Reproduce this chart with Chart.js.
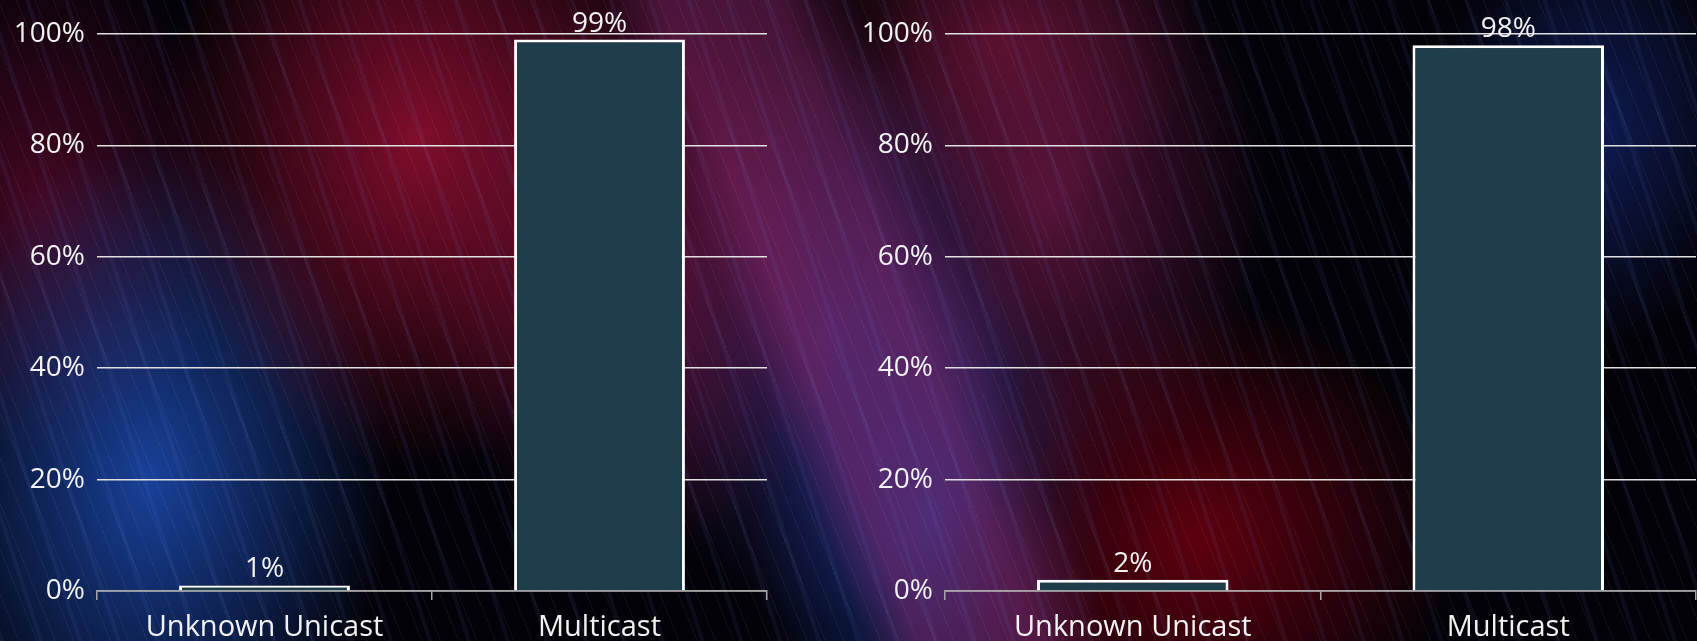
<!DOCTYPE html>
<html>
<head>
  <meta charset="UTF-8">
  <title>Unknown Unicast vs Multicast</title>
  <script src="https://cdn.jsdelivr.net/npm/chart.js"></script>
  <style>
    html, body { margin: 0; padding: 0; }
    body {
      width: 1697px; height: 641px; overflow: hidden; position: relative;
      background-color: #030208;
      background-image:
        repeating-linear-gradient(68deg, rgba(255,255,255,0.05) 0 1px, transparent 1px 17px),
        repeating-linear-gradient(72deg, rgba(120,150,255,0.07) 0 4px, transparent 4px 37px),
        linear-gradient(68deg, transparent 0 44%, rgba(150,40,110,0.45) 47% 53%, transparent 57%),
        radial-gradient(ellipse 260px 330px at 420px 140px, rgba(150,15,50,0.85), transparent),
        radial-gradient(ellipse 220px 300px at 640px 260px, rgba(130,20,70,0.7), transparent),
        radial-gradient(ellipse 240px 340px at 150px 480px, rgba(30,80,190,0.8), transparent),
        radial-gradient(ellipse 200px 260px at 40px 200px, rgba(110,10,50,0.6), transparent),
        radial-gradient(ellipse 200px 300px at 830px 330px, rgba(60,60,170,0.55), transparent),
        radial-gradient(ellipse 220px 300px at 1050px 200px, rgba(140,30,90,0.6), transparent),
        radial-gradient(ellipse 260px 240px at 1200px 540px, rgba(110,0,15,0.85), transparent),
        radial-gradient(ellipse 180px 280px at 930px 520px, rgba(25,60,160,0.75), transparent),
        radial-gradient(ellipse 160px 220px at 1590px 130px, rgba(25,50,150,0.55), transparent),
        radial-gradient(ellipse 200px 180px at 1000px 40px, rgba(120,20,50,0.6), transparent);
    }
    .box { position: absolute; top: 0; }
  </style>
</head>
<body>
  <div class="box" style="left:0px"><canvas id="left" width="780" height="641"></canvas></div>
  <div class="box" style="left:848px"><canvas id="right" width="849" height="641"></canvas></div>

  <script>
    const categories = ['Unknown Unicast', 'Multicast'];
    const leftValues = [1, 99];
    const rightValues = [2, 98];
    const yTicks = [0, 20, 40, 60, 80, 100];

    const textColor = '#f2f2f2';
    const family = '"Open Sans", "Noto Sans", sans-serif';

    const valueLabels = {
      id: 'valueLabels',
      afterDatasetsDraw(chart) {
        const ctx = chart.ctx;
        const ds = chart.data.datasets[0];
        chart.getDatasetMeta(0).data.forEach((bar, i) => {
          ctx.save();
          ctx.fillStyle = textColor;
          ctx.font = '28px ' + family;
          ctx.textAlign = 'center';
          ctx.textBaseline = 'bottom';
          ctx.fillText(ds.data[i] + '%', bar.x, bar.y - 2);
          ctx.restore();
        });
      }
    };

    function makeChart(id, values, padRight) {
      new Chart(document.getElementById(id), {
        type: 'bar',
        data: {
          labels: categories,
          datasets: [{
            data: values,
            backgroundColor: '#1f3e4c',
            borderColor: '#ffffff',
            borderWidth: 3,
            barPercentage: 0.51,
            categoryPercentage: 1
          }]
        },
        options: {
          responsive: false,
          animation: false,
          devicePixelRatio: 1,
          layout: { padding: { top: 34, right: padRight, left: 0, bottom: 0 } },
          plugins: { legend: { display: false }, tooltip: { enabled: false } },
          scales: {
            x: {
              afterFit: s => { s.height = 50; },
              grid: { drawOnChartArea: false, color: '#a6a6a6', lineWidth: 1.5, tickLength: 9, offset: true },
              border: { display: true, color: '#a6a6a6', width: 1.5 },
              ticks: { color: textColor, font: { family: family, size: 29 }, padding: 10 }
            },
            y: {
              min: 0, max: 100,
              afterBuildTicks: s => { s.ticks = yTicks.map(v => ({ value: v })); },
              afterFit: s => { s.width = 97; },
              grid: { color: '#e0e0e0', lineWidth: 1.5, drawTicks: false },
              border: { display: false },
              ticks: { color: textColor, font: { family: family, size: 28 }, padding: 12, callback: v => v + '%' }
            }
          }
        },
        plugins: [valueLabels]
      });
    }

    makeChart('left', leftValues, 13);
    makeChart('right', rightValues, 1);
  </script>
</body>
</html>
